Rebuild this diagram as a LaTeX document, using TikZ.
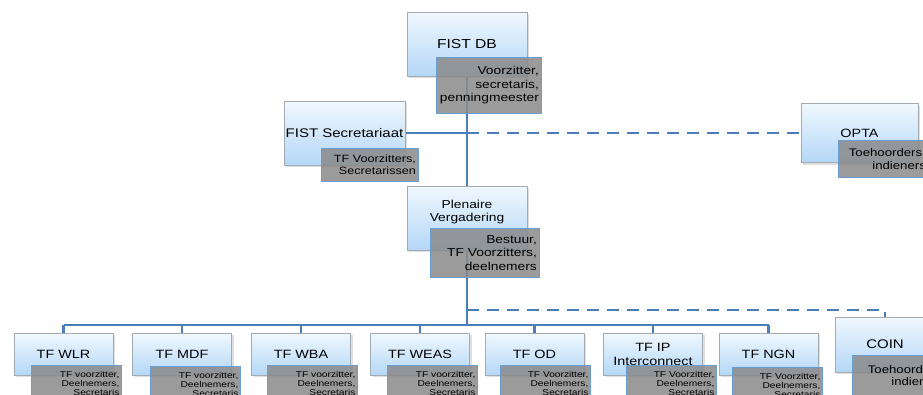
\documentclass[tikz,border=0pt]{standalone}
\usepackage{fontspec}
\setmainfont[FakeStretch=1.2]{Liberation Sans}
\usetikzlibrary{shadows, backgrounds}

\definecolor{linkblue}{HTML}{4A7EBB}
\definecolor{boxedge}{HTML}{A3AAB2}
\definecolor{boxtop}{HTML}{F0F8FF}
\definecolor{boxbot}{HTML}{B4D7F6}
\definecolor{rolefill}{HTML}{8A8A8A}
\definecolor{roleedge}{HTML}{6A9ED3}

\begin{document}
\begin{tikzpicture}[x=1pt, y=-1pt,
    unit/.style={draw=boxedge, top color=boxtop, bottom color=boxbot,
      drop shadow={shadow xshift=2pt, shadow yshift=-2pt, opacity=0.25},
      align=center, inner sep=1pt, font=\fontsize{13}{15}\selectfont},
    role/.style={draw=roleedge, line width=0.8pt, fill=rolefill, fill opacity=0.85,
      text opacity=1, anchor=north west, align=right, inner sep=2pt,
      font=\fontsize{11.5}{13.5}\selectfont},
    tf/.style={unit, minimum width=99, minimum height=42, font=\fontsize{12}{14}\selectfont},
    tfrole/.style={role, minimum width=90, minimum height=36, font=\fontsize{8.5}{9}\selectfont},
    link/.style={draw=linkblue, line width=2.6pt},
    optional/.style={link, dash pattern=on 12pt off 8pt}]
  \useasboundingbox (0,0) rectangle (923,394);

  % bestuur
  \node[unit, minimum width=120, minimum height=64] (fistdb) at (467,44) {FIST DB};
  \node[role, minimum width=105, minimum height=56, text width=100] (fistdbr) at (436,57)
    {Voorzitter,\\secretaris,\\penningmeester};

  \node[unit, minimum width=121, minimum height=64, font=\fontsize{12.5}{15}\selectfont] (secr) at (344.5,133) {FIST Secretariaat};
  \node[role, minimum width=97, minimum height=33, text width=92, font=\fontsize{10.5}{12.5}\selectfont] (secrr) at (321,148)
    {TF Voorzitters,\\Secretarissen};

  \node[unit, minimum width=117, minimum height=59, font=\fontsize{12}{14}\selectfont] (opta) at (859.5,133) {OPTA};
  \node[role, minimum width=90, minimum height=37, text width=85, font=\fontsize{11}{12.5}\selectfont] (optar) at (838,140)
    {Toehoorders,\\indieners};

  \node[unit, minimum width=120, minimum height=64, font=\fontsize{11.5}{13}\selectfont] (plen) at (467,218) {Plenaire\\Vergadering\\[2pt]};
  \node[role, minimum width=109, minimum height=49, text width=104] (plenr) at (430,228)
    {Bestuur,\\TF Voorzitters,\\deelnemers};

  % taskforces
  \node[tf] (wlr) at (63.5,354) {TF WLR};
  \node[tf] (mdf) at (182,354) {TF MDF};
  \node[tf] (wba) at (301,354) {TF WBA};
  \node[tf] (weas) at (420,354) {TF WEAS};
  \node[tf] (od) at (534.5,354) {TF OD};
  \node[tf] (ip) at (653,354) {TF IP\\Interconnect};
  \node[tf] (ngn) at (768.5,354) {TF NGN};

  \node[tfrole, text width=86] (wlrr) at (31,365) {TF voorzitter,\\Deelnemers,\\Secretaris};
  \node[tfrole, text width=86] (mdfr) at (150,366) {TF voorzitter,\\Deelnemers,\\Secretaris};
  \node[tfrole, text width=86] (wbar) at (267,365) {TF voorzitter,\\Deelnemers,\\Secretaris};
  \node[tfrole, text width=86] (weasr) at (387,365) {TF voorzitter,\\Deelnemers,\\Secretaris};
  \node[tfrole, text width=86] (odr) at (500,365) {TF Voorzitter,\\Deelnemers,\\Secretaris};
  \node[tfrole, text width=86] (ipr) at (626,365) {TF Voorzitter,\\Deelnemers,\\Secretaris};
  \node[tfrole, text width=86] (ngnr) at (732,367) {TF Voorzitter,\\Deelnemers,\\Secretaris};

  \node[unit, minimum width=100, minimum height=55, font=\fontsize{12.5}{15}\selectfont] (coin) at (885,344.5) {COIN};
  \node[role, minimum width=95, minimum height=40, text width=90, font=\fontsize{11}{12.5}\selectfont] (coinr) at (852,355)
    {Toehoorders,\\indieners};

  \coordinate (bus) at (467,325);
  \coordinate (split) at (467,310);

  \begin{scope}[on background layer]
    \draw[link] (fistdb.south) -- (plen.north);
    \draw[link] (secr.east) -- (secr.east -| plen.north);
    \draw[optional] (secr.east -| plen.north) -- (opta.west);
    \draw[link] (plen.south) -- (bus);
    \draw[optional] (split) -| (coin.north);
    \draw[link] (wlr.north |- bus) -- (ngn.north |- bus);
    \foreach \tf in {wlr, mdf, wba, weas, od, ip, ngn}
      \draw[link] (\tf.north) -- (\tf.north |- bus);
  \end{scope}
\end{tikzpicture}
\end{document}
